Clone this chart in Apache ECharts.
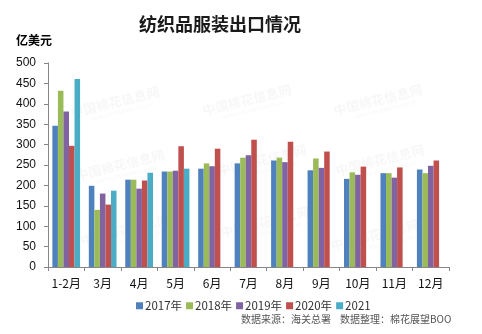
<!DOCTYPE html>
<html>
<head>
<meta charset="utf-8">
<script src="https://cdn.jsdelivr.net/npm/echarts@6/dist/echarts.min.js"></script>
<style>
  html, body { margin: 0; padding: 0; background: #fff; }
  #chart { width: 482px; height: 334px; }
</style>
</head>
<body>
<div id="chart"></div>
<script>
// Monthly textile & garment exports, 100 million USD
const months = ['1-2月', '3月', '4月', '5月', '6月', '7月', '8月', '9月', '10月', '11月', '12月'];
const yearNames = ['2017年', '2018年', '2019年', '2020年', '2021'];
const v2017 = [346, 199, 214, 234, 241, 254, 261, 237, 216, 230, 239];
const v2018 = [432, 140, 214, 234, 254, 268, 268, 266, 232, 230, 230];
const v2019 = [381, 180, 192, 236, 247, 274, 257, 243, 226, 219, 248];
const v2020 = [297, 153, 212, 296, 290, 312, 307, 283, 246, 244, 261];
const v2021 = [461, 187, 231, 241, null, null, null, null, null, null, null];
const yTicks = [0, 50, 100, 150, 200, 250, 300, 350, 400, 450, 500];
const colors = ['#4F81BD', '#9BBB59', '#8064A2', '#C0504D', '#4BACC6'];

const seriesValues = [v2017, v2018, v2019, v2020, v2021];
const cjk = '"Noto Sans CJK SC", "Microsoft YaHei", sans-serif';

// faint site watermark tiles
const marks = [];
[[115, 102], [247, 100], [378, 100], [120, 165], [262, 160], [380, 160], [125, 230], [265, 222], [375, 235]].forEach(function (p) {
  marks.push({
    type: 'group', x: p[0], y: p[1], rotation: Math.PI / 13, silent: true, z: 0,
    children: [
      { type: 'text', style: { text: '中国棉花信息网', x: 0, y: 0, align: 'center', verticalAlign: 'middle',
        font: 'bold 13px "Noto Sans CJK SC", serif', fill: 'rgba(120,120,120,0.06)' } },
      { type: 'text', style: { text: 'www.cottonchina.org.cn', x: 4, y: 11, align: 'center', verticalAlign: 'middle',
        font: '6px sans-serif', fill: 'rgba(120,120,120,0.06)' } }
    ]
  });
});

const chart = echarts.init(document.getElementById('chart'), null, { renderer: 'canvas' });
chart.setOption({
  animation: false,
  backgroundColor: '#fff',
  color: colors,
  title: {
    text: '纺织品服装出口情况',
    left: 215, top: 10, textAlign: 'center',
    textStyle: { fontFamily: cjk, fontSize: 18, fontWeight: 'bold', color: '#1a1a1a' }
  },
  graphic: marks.concat([
    { type: 'text', left: 16, top: 34, style: { text: '亿美元', font: 'bold 12px ' + cjk, fill: '#000' } },
    { type: 'text', left: 241, top: 314, style: { text: '数据来源：海关总署    数据整理：棉花展望BOO', font: '10px ' + cjk, fill: '#555' } }
  ]),
  legend: {
    data: yearNames,
    left: 136, top: 300, padding: 0,
    itemWidth: 7, itemHeight: 7, itemGap: 4,
    icon: 'rect',
    textStyle: { fontFamily: cjk, fontSize: 11.5, color: '#333', padding: [0, 0, 0, -3] }
  },
  grid: { left: 48, right: 33, top: 63, bottom: 67, containLabel: false },
  xAxis: {
    type: 'category',
    data: months,
    axisLine: { lineStyle: { color: '#868686' } },
    axisTick: { show: true, length: 4, lineStyle: { color: '#868686' } },
    axisLabel: { color: '#111', fontFamily: cjk, fontSize: 12, margin: 10, interval: 0 }
  },
  yAxis: {
    type: 'value',
    min: yTicks[0], max: yTicks[yTicks.length - 1], interval: 50,
    axisLine: { show: true, lineStyle: { color: '#868686' } },
    axisTick: { show: true, length: 4, lineStyle: { color: '#868686' } },
    splitLine: { show: false },
    axisLabel: { color: '#111', fontFamily: '"Liberation Sans", Arial, sans-serif', fontSize: 12, margin: 12 }
  },
  series: seriesValues.map(function (vals, i) {
    return {
      name: yearNames[i], type: 'bar', data: vals,
      barGap: '0%', barCategoryGap: '24%', z: 2
    };
  })
});
</script>
</body>
</html>
